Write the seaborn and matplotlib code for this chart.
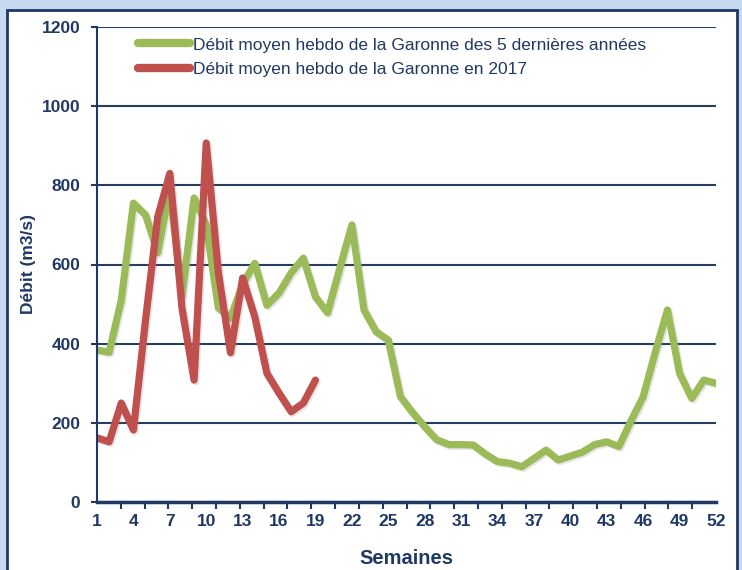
import numpy as np
import pandas as pd
import matplotlib
matplotlib.use("Agg")
import matplotlib.pyplot as plt
import matplotlib.patheffects as pe
from matplotlib.patches import Rectangle
import seaborn as sns

# ---- data ----
weeks_5y = list(range(1, 53))
debit_5y = [384, 378, 510, 755, 725, 630, 790, 520, 768, 700,
            490, 465, 550, 603, 497, 528, 579, 616, 518, 478,
            590, 700, 485, 430, 409, 266, 226, 190, 157, 145,
            145, 144, 121, 102, 98, 89, 110, 131, 106, 116,
            126, 145, 152, 140, 205, 266, 379, 485, 325, 262,
            308, 300]
weeks_2017 = list(range(1, 20))
debit_2017 = [162, 152, 250, 182, 460, 720, 830, 490, 308, 907,
              580, 377, 566, 468, 325, 275, 228, 250, 308]
label_5y = "Débit moyen hebdo de la Garonne des 5 dernières années"
label_2017 = "Débit moyen hebdo de la Garonne en 2017"
xtick_labels = list(range(1, 53, 3))
ytick_values = [0, 200, 400, 600, 800, 1000, 1200]

df = pd.concat([
    pd.DataFrame({"Semaine": weeks_5y, "Débit": debit_5y, "Série": label_5y}),
    pd.DataFrame({"Semaine": weeks_2017, "Débit": debit_2017, "Série": label_2017}),
], ignore_index=True)

sns.set_theme(style="white")
plt.rcParams['font.family'] = ['Liberation Sans Narrow', 'Liberation Sans', 'DejaVu Sans']

navy = "#1f3864"
green = "#9bbb59"
red = "#c0504d"

fig = plt.figure(figsize=(7.42, 5.70), dpi=100)
fig.patch.set_facecolor("#c6d9f1")
bg = fig.add_axes([0, 0, 1, 1], zorder=-10)
bg.set_axis_off()
bg.set_xlim(0, 742)
bg.set_ylim(570, 0)
bg.add_patch(Rectangle((7, 10), 730, 600, facecolor="white",
                       edgecolor="#1f3864", linewidth=2))

ax = fig.add_axes([97/742, 1 - 502/570, (716 - 97)/742, (502 - 27)/570], zorder=1)
ax.set_facecolor("none")

sns.lineplot(data=df, x="Semaine", y="Débit", hue="Série",
             palette={label_5y: green, label_2017: red},
             linewidth=5.2, ax=ax, sort=False,
             solid_joinstyle="round", solid_capstyle="round",
             path_effects=[pe.SimpleLineShadow(offset=(1.2, -1.2), alpha=0.2, shadow_color="gray"),
                           pe.Normal()])

ax.set_xlim(1, 52)
ax.set_ylim(0, 1200)
ax.set_yticks(ytick_values)
ax.set_yticklabels([str(v) for v in ytick_values])
ax.set_xticks(xtick_labels)
ax.set_xticklabels([str(v) for v in xtick_labels])
ax.set_xticks(np.linspace(1, 52, 27), minor=True)
ax.tick_params(axis="x", which="major", length=0, pad=9, labelsize=12.5, colors=navy)
ax.tick_params(axis="x", which="minor", length=5, width=1.5, color=navy, direction="out", bottom=True)
ax.tick_params(axis="y", which="major", length=4, width=1.5, color=navy, pad=8, labelsize=12.5,
               labelcolor=navy, left=True)
for lab in ax.get_xticklabels() + ax.get_yticklabels():
    lab.set_fontweight("bold")

ax.grid(axis="y", color="#243f60", linewidth=1.5)
ax.set_axisbelow(True)
for s in ["top", "right"]:
    ax.spines[s].set_visible(False)
ax.spines["left"].set_color(navy)
ax.spines["left"].set_linewidth(1.5)
ax.spines["bottom"].set_color(navy)
ax.spines["bottom"].set_linewidth(2.5)

ax.set_xlabel("Semaines", fontsize=14.5, fontweight="bold", color=navy, labelpad=14)
ax.set_ylabel("Débit (m3/s)", fontsize=12.5, fontweight="bold", color=navy, labelpad=4)

leg = ax.legend(loc="upper left", bbox_to_anchor=(0.05, 1.0), frameon=False,
                fontsize=12.5, handlelength=3.0, handletextpad=0.15, labelspacing=0.55,
                borderaxespad=0.2)
for t in leg.get_texts():
    t.set_color(navy)
for h in leg.legend_handles:
    h.set_linewidth(6)
    h.set_solid_capstyle("round")
    h.set_path_effects([])

fig.savefig("out.png", dpi=100, facecolor=fig.get_facecolor())
